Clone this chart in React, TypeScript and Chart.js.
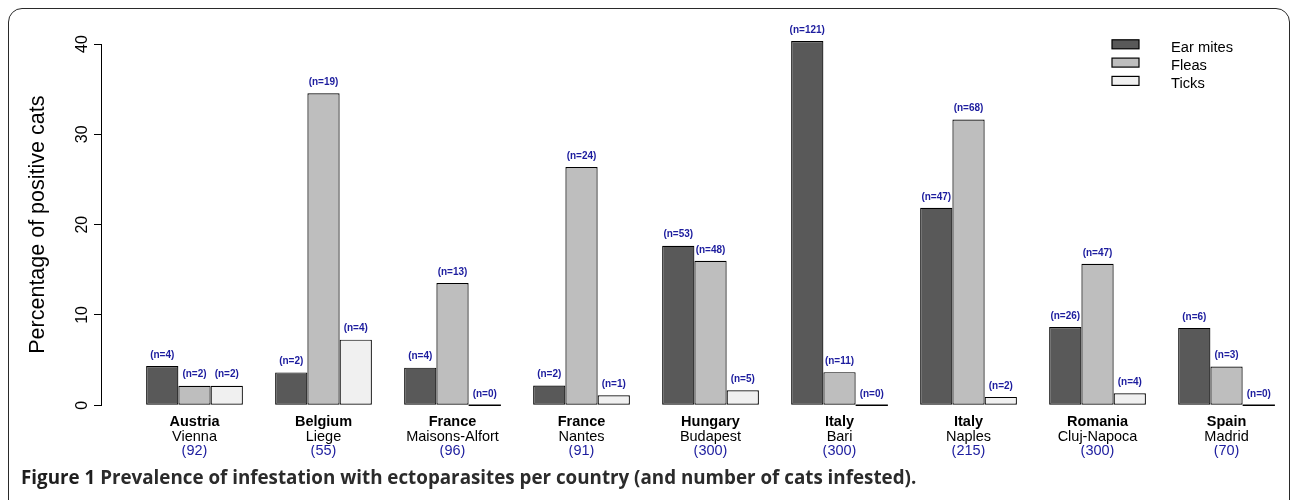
import React, { useEffect, useRef } from "react";
import { Chart, registerables } from "chart.js";

Chart.register(...registerables);

// ---- data ----
const countries = ["Austria", "Belgium", "France", "France", "Hungary", "Italy", "Italy", "Romania", "Spain"];
const cities = ["Vienna", "Liege", "Maisons-Alfort", "Nantes", "Budapest", "Bari", "Naples", "Cluj-Napoca", "Madrid"];
const catsExamined = [92, 55, 96, 91, 300, 300, 215, 300, 70];
const earMitesPct = [4.35, 3.64, 4.17, 2.2, 17.67, 40.33, 21.86, 8.67, 8.57];
const fleasPct = [2.17, 34.55, 13.54, 26.37, 16.0, 3.67, 31.63, 15.67, 4.29];
const ticksPct = [2.17, 7.27, 0, 1.1, 1.67, 0, 0.93, 1.33, 0];
const earMitesN = [4, 2, 4, 2, 53, 121, 47, 26, 6];
const fleasN = [2, 19, 13, 24, 48, 11, 68, 47, 3];
const ticksN = [2, 4, 0, 1, 5, 0, 2, 4, 0];
const seriesNames = ["Ear mites", "Fleas", "Ticks"];
const yTickValues = [0, 10, 20, 30, 40];

const FONT = "'Liberation Sans', Arial, Helvetica, sans-serif";
const BLUE = "#1c1c9e";
const X_MIN = -0.7248;
const X_MAX = 8.492;

const barLabelPlugin = {
  id: "barLabels",
  afterDatasetsDraw(chart: any) {
    const ctx = chart.ctx;
    ctx.save();
    chart.data.datasets.forEach((ds: any, i: number) => {
      const meta = chart.getDatasetMeta(i);
      meta.data.forEach((el: any, j: number) => {
        const v = ds.data[j].y;
        if (v === 0) {
          ctx.strokeStyle = "#000";
          ctx.lineWidth = 1.4;
          ctx.beginPath();
          ctx.moveTo(el.x - el.width / 2, el.y);
          ctx.lineTo(el.x + el.width / 2, el.y);
          ctx.stroke();
        }
        ctx.fillStyle = BLUE;
        ctx.font = `bold 10px ${FONT}`;
        ctx.textAlign = "center";
        ctx.textBaseline = "middle";
        ctx.fillText(`(n=${ds.counts[j]})`, el.x, el.y - 11);
      });
    });
    ctx.restore();
  },
};

const cornerLegendPlugin = {
  id: "cornerLegend",
  afterDraw(chart: any, _args: any, opts: any) {
    const ctx = chart.ctx;
    ctx.save();
    chart.data.datasets.forEach((ds: any, i: number) => {
      const cy = opts.y + i * opts.gap;
      ctx.fillStyle = ds.backgroundColor;
      ctx.strokeStyle = "#000";
      ctx.lineWidth = 1.2;
      ctx.fillRect(opts.x, cy - 4.5, 27, 9);
      ctx.strokeRect(opts.x, cy - 4.5, 27, 9);
      ctx.fillStyle = "#000";
      ctx.font = `14.7px ${FONT}`;
      ctx.textAlign = "left";
      ctx.textBaseline = "alphabetic";
      ctx.fillText(ds.label, opts.textX, cy + 7.5);
    });
    ctx.restore();
  },
};

// lines: where the label sits among (possibly empty) lines, to control vertical placement
function xAxis(labels: string[], opts: any) {
  return {
    type: "linear",
    position: "bottom",
    min: X_MIN,
    max: X_MAX,
    offset: false,
    weight: opts.weight,
    afterBuildTicks: (s: any) => {
      s.ticks = labels.map((_, i) => ({ value: i }));
    },
    grid: { display: false, drawTicks: false, offset: false },
    border: { display: false },
    ticks: {
      autoSkip: false,
      maxRotation: 0,
      minRotation: 0,
      padding: opts.padding,
      color: opts.color,
      font: { family: FONT, size: 14.5, weight: opts.bold ? "bold" : "normal", lineHeight: opts.lineHeight },
      callback: (_v: any, idx: number) => (opts.textFirst ? [labels[idx], ""] : ["", labels[idx]]),
    },
  };
}

export default function App() {
  const ref = useRef<HTMLCanvasElement | null>(null);

  useEffect(() => {
    if (!ref.current) return;
    const colors = ["#595959", "#bebebe", "#f0f0f0"];
    const values = [earMitesPct, fleasPct, ticksPct];
    const counts = [earMitesN, fleasN, ticksN];
    const chart = new Chart(ref.current, {
      type: "bar",
      data: {
        datasets: seriesNames.map((name, k) => ({
          label: name,
          data: values[k].map((v, i) => ({ x: i, y: v })),
          counts: counts[k],
          backgroundColor: colors[k],
          borderColor: "#000",
          borderWidth: 1.2,
          borderSkipped: false,
          categoryPercentage: 0.75,
          barPercentage: 1,
          clip: false,
        })) as any,
      },
      options: {
        responsive: false,
        animation: false,
        layout: { padding: { left: 10, right: 2, top: 44, bottom: 40 } },
        plugins: {
          legend: { display: false },
          tooltip: { enabled: false },
          cornerLegend: { x: 1112, textX: 1171, y: 44.3, gap: 18.3 },
        } as any,
        scales: {
          x: xAxis(countries, { padding: 3.5, lineHeight: "8.6px", textFirst: false, color: "#000", bold: true, weight: 0 }),
          x2: xAxis(cities, { padding: 6.65, lineHeight: "1.1px", textFirst: true, color: "#000", bold: false, weight: 1 }),
          x3: xAxis(catsExamined.map((n) => `(${n})`), { padding: 4.5, lineHeight: "3px", textFirst: true, color: BLUE, bold: false, weight: 2 }),
          y: {
            min: 0,
            max: 40,
            afterBuildTicks: (s: any) => {
              s.ticks = yTickValues.map((v) => ({ value: v }));
            },
            grid: { display: true, drawOnChartArea: false, drawTicks: true, tickLength: 7, color: "#000", lineWidth: 1 },
            border: { display: true, color: "#000", width: 1 },
            ticks: {
              minRotation: 90,
              maxRotation: 90,
              crossAlign: "center",
              padding: 3,
              color: "#000",
              font: { family: FONT, size: 16 },
            },
            title: {
              display: true,
              text: "Percentage of positive cats",
              color: "#000",
              font: { family: FONT, size: 21.5 },
              padding: { top: 15.1, bottom: 17.9 },
            },
          },
        } as any,
      },
      plugins: [barLabelPlugin, cornerLegendPlugin],
    });
    return () => chart.destroy();
  }, []);

  return (
    <div
      style={{
        position: "fixed",
        left: 0,
        top: 0,
        width: 1292,
        height: 500,
        overflow: "hidden",
        background: "#fff",
      }}
    >
      <div
        style={{
          position: "absolute",
          left: 8,
          top: 8,
          width: 1282,
          height: 600,
          border: "1.5px solid #2a2a2a",
          borderRadius: "14px 14px 0 0",
          boxSizing: "border-box",
        }}
      />
      <canvas ref={ref} width={1292} height={500} style={{ position: "absolute", left: 0, top: 0, width: 1292, height: 500 }} />
      <div
        style={{
          position: "absolute",
          left: 21,
          top: 466,
          fontFamily: "'Open Sans', sans-serif",
          fontWeight: 700,
          fontSize: 18.8,
          color: "#2b2b2b",
          whiteSpace: "nowrap",
          lineHeight: "22px",
        }}
      >
        <span style={{ color: "#1e1e1e" }}>Figure 1</span> Prevalence of infestation with ectoparasites per country (and number of cats infested).
      </div>
    </div>
  );
}
